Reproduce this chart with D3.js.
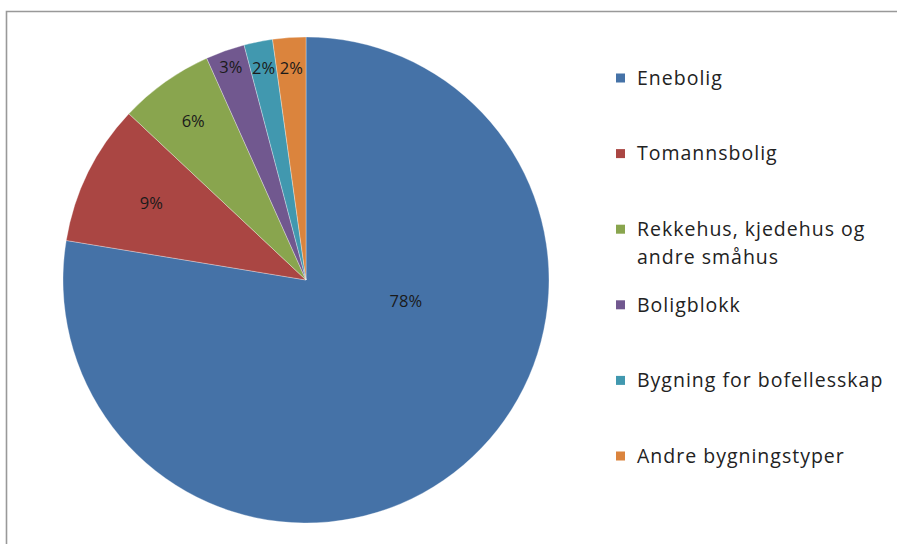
<!DOCTYPE html>
<html><head><meta charset="utf-8">
<script src="https://cdn.jsdelivr.net/npm/d3@7"></script>
<style>body{margin:0;background:#fff}svg{display:block}</style>
</head><body>
<svg id="c" width="897" height="544"></svg>
<script>
const categories = ["Enebolig","Tomannsbolig","Rekkehus, kjedehus og andre småhus","Boligblokk","Bygning for bofellesskap","Andre bygningstyper"];
const values = [77.6, 9.4, 6.3, 2.6, 1.9, 2.2];
const colors = ["#4572A7","#AA4643","#89A54E","#71588F","#4198AF","#DB843D"];
const legendLines = [["Enebolig"],["Tomannsbolig"],["Rekkehus, kjedehus og","andre småhus"],["Boligblokk"],["Bygning for bofellesskap"],["Andre bygningstyper"]];

const svg = d3.select("#c");
// frame
svg.append("path").attr("d","M6.5,544 V11.5 H897").attr("fill","none").attr("stroke","#999").attr("stroke-width",1.6);

const cx = 306, cy = 280, R = 243;
const pie = d3.pie().sort(null).value(d=>d);
const arcs = pie(values);
const arc = d3.arc().innerRadius(0).outerRadius(R);
const g = svg.append("g").attr("transform",`translate(${cx},${cy})`);
g.selectAll("path").data(arcs).join("path")
  .attr("d",arc).attr("fill",(d,i)=>colors[i])
  .attr("stroke","rgba(255,255,255,0.45)").attr("stroke-width",0.7);

// label placement (layout only)
const labelRadiusFrac = [0.42, 0.71, 0.80, 0.93, 0.89, 0.875];
const labelAngleOverride = [102*Math.PI/180, null, null, null, null, null];
g.selectAll("text").data(arcs).join("text")
  .attr("transform",(d,i)=>{
    const a = labelAngleOverride[i] ?? (d.startAngle+d.endAngle)/2;
    const r = R*labelRadiusFrac[i];
    return `translate(${r*Math.sin(a)},${-r*Math.cos(a)})`;
  })
  .attr("text-anchor","middle").attr("dy","0.35em")
  .attr("font-family","Open Sans, sans-serif").attr("font-size",16.5).attr("fill","#1a1a1a")
  .text(d=>Math.round(d.data)+"%");

// legend
const legendY = d3.scalePoint().domain(d3.range(categories.length)).range([78,456]);
const lg = svg.append("g");
categories.forEach((c,i)=>{
  const y = legendY(i);
  lg.append("rect").attr("x",616).attr("y",y-4.5).attr("width",9).attr("height",9).attr("fill",colors[i]);
  const t = lg.append("text").attr("x",637).attr("y",y)
    .attr("font-family","Open Sans, sans-serif").attr("font-size",19.5).attr("letter-spacing",1.0).attr("fill","#222");
  legendLines[i].forEach((ln,j)=>{
    t.append("tspan").attr("x",637).attr("dy", j===0? "0.35em":"28px").text(ln);
  });
});
</script>
</body></html>
